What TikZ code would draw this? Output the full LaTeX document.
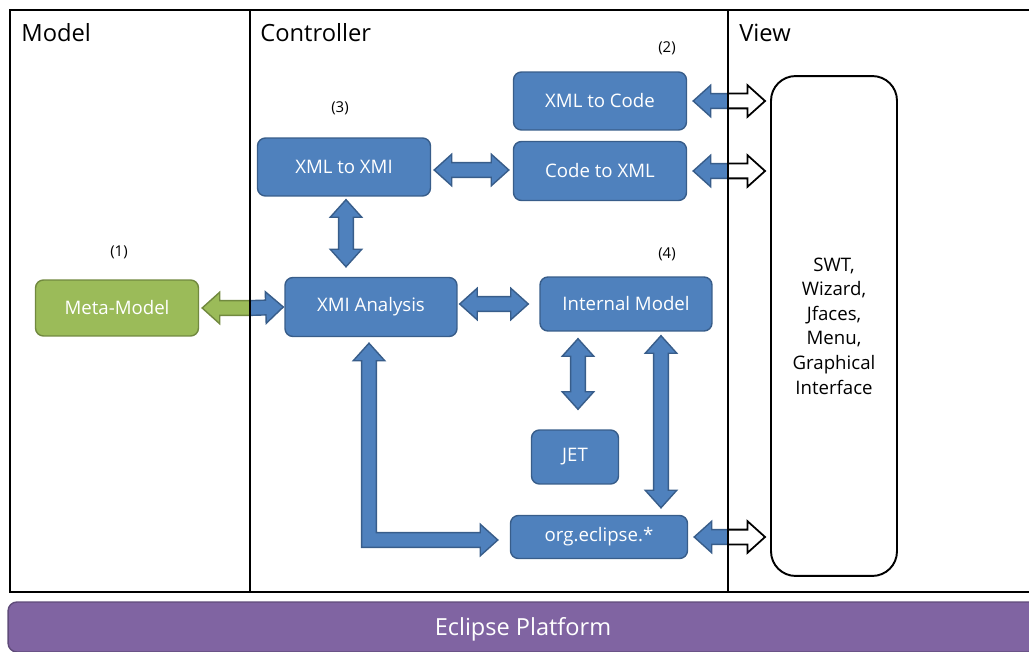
\documentclass[tikz,border=0pt]{standalone}
\usepackage{fontspec}
\setmainfont{Open Sans}
\usepackage{tikz}
\usetikzlibrary{calc}

\definecolor{boxblue}{HTML}{4F81BD}
\definecolor{edgeblue}{HTML}{385D8A}
\definecolor{boxgreen}{HTML}{9BBB59}
\definecolor{edgegreen}{HTML}{71893F}
\definecolor{barpurple}{HTML}{8064A2}
\definecolor{edgepurple}{HTML}{5F4B7A}

% fat arrow sizes: shaft half width, head half width, head length
\def\fsw{4.2pt}
\def\fhw{9pt}
\def\fhl{10pt}

% fat double arrow from tip #1 to tip #2
\newcommand\fatboth[3]{%
  \path[#3] let \p1=#1, \p2=#2,
    \n1={atan2(\y2-\y1,\x2-\x1)}, \n2={veclen(\x2-\x1,\y2-\y1)} in
    [shift={(\p1)}, rotate=\n1]
    (0pt,0pt) -- (\fhl,\fhw) -- (\fhl,\fsw) -- (\n2*1pt-\fhl,\fsw) -- (\n2*1pt-\fhl,\fhw)
    -- (\n2*1pt,0pt) -- (\n2*1pt-\fhl,-\fhw) -- (\n2*1pt-\fhl,-\fsw) -- (\fhl,-\fsw)
    -- (\fhl,-\fhw) -- cycle;}
% fat single arrow, tail #1, tip #2
\newcommand\fatone[3]{%
  \path[#3] let \p1=#1, \p2=#2,
    \n1={atan2(\y2-\y1,\x2-\x1)}, \n2={veclen(\x2-\x1,\y2-\y1)} in
    [shift={(\p1)}, rotate=\n1]
    (0pt,\fsw) -- (\n2*1pt-\fhl,\fsw) -- (\n2*1pt-\fhl,\fhw) -- (\n2*1pt,0pt)
    -- (\n2*1pt-\fhl,-\fhw) -- (\n2*1pt-\fhl,-\fsw) -- (0pt,-\fsw) -- cycle;}
% fat elbow arrow, up tip #1, right tip #2
\newcommand\fatell[3]{%
  \path[#3] let \p1=#1, \p2=#2 in
    (\p1) -- (\x1+\fhw,\y1-\fhl) -- (\x1+\fsw,\y1-\fhl) -- (\x1+\fsw,\y2+\fsw)
    -- (\x2-\fhl,\y2+\fsw) -- (\x2-\fhl,\y2+\fhw) -- (\p2) -- (\x2-\fhl,\y2-\fhw)
    -- (\x2-\fhl,\y2-\fsw) -- (\x1-\fsw,\y2-\fsw) -- (\x1-\fsw,\y1-\fhl)
    -- (\x1-\fhw,\y1-\fhl) -- cycle;}

\tikzset{
  block/.style={shape=rectangle, rounded corners=4.5pt, fill=boxblue, draw=edgeblue,
    line width=0.8pt, text=white, inner sep=0pt, font=\fontsize{10.6}{12}\selectfont},
  greenblock/.style={block, fill=boxgreen, draw=edgegreen},
  viewblock/.style={shape=rectangle, rounded corners=14pt, fill=white, draw=black,
    line width=1.1pt, align=center, font=\fontsize{10.6}{14}\selectfont},
  platform/.style={shape=rectangle, rounded corners=5pt, fill=barpurple, draw=edgepurple,
    line width=0.8pt, text=white, font=\fontsize{13.4}{15}\selectfont},
  layer/.style={anchor=west, inner sep=0pt, font=\fontsize{13.5}{15}\selectfont},
  num/.style={inner sep=0pt, font=\fontsize{8.5}{10}\selectfont},
  fatblue/.style={fill=boxblue, draw=edgeblue, line width=0.8pt},
  fatgreen/.style={fill=boxgreen, draw=edgegreen, line width=0.8pt},
  fatwhite/.style={fill=white, draw=black, line width=1pt},
  frame/.style={draw=black, line width=1.4pt}
}

\begin{document}
\begin{tikzpicture}[x=0.02cm,y=-0.02cm]
  \useasboundingbox (0,0) rectangle (1029,652);
  \clip (0,0) rectangle (1029,652);

  \coordinate (d1) at (250,10);
  \coordinate (d2) at (728,10);

  \node[layer] (tmodel) at (21,33) {Model};
  \node[layer] (tctrl) at (260,33) {Controller};
  \node[layer] (tview) at (739,33) {View};

  \node[greenblock, minimum width=3.26cm, minimum height=1.12cm] (meta) at (117,308) {Meta-Model};
  \node[block, minimum width=3.44cm, minimum height=1.18cm] (xmi) at (371,307) {XMI Analysis};
  \node[block, minimum width=3.46cm, minimum height=1.16cm] (xml2xmi) at (344,167) {XML to XMI};
  \node[block, minimum width=3.46cm, minimum height=1.16cm] (xml2code) at (600,101) {XML to Code};
  \node[block, minimum width=3.46cm, minimum height=1.18cm] (code2xml) at (600,171) {Code to XML};
  \node[block, minimum width=3.44cm, minimum height=1.08cm] (internal) at (626,304) {Internal Model};
  \node[block, minimum width=1.74cm, minimum height=1.08cm] (jet) at (575,457) {JET};
  \node[block, minimum width=3.54cm, minimum height=0.86cm] (orgecl) at (599,537) {org.eclipse.*};
  \node[viewblock, minimum width=2.52cm, minimum height=10cm] (view) at (834,326)
    {SWT,\\Wizard,\\Jfaces,\\Menu,\\Graphical\\Interface};

  \node[num] (n1) at (119,252) {(1)};
  \node[num] (n2) at (667,48) {(2)};
  \node[num] (n3) at (340,108) {(3)};
  \node[num] (n4) at (667,254) {(4)};

  \node[platform, minimum width=20.6cm, minimum height=1cm] (eclipse) at (523,627) {};
  \node[inner sep=0pt, text=white, font=\fontsize{13.4}{15}\selectfont] (eclipsetext) at (523,629) {Eclipse Platform};

  % arrows
  \fatone{(meta.east -| d1)}{($(meta.east)+(3,0)$)}{fatgreen}
  \fatone{(meta.east -| d1)}{($(xmi.west)+(-1,0)$)}{fatblue}
  \fatboth{($(xml2xmi.south)+(2,3)$)}{($(xml2xmi.south |- xmi.north)+(2,-10)$)}{fatblue}
  \fatboth{($(xml2xmi.east)+(3,3)$)}{($(xml2xmi.east -| code2xml.west)+(-4,3)$)}{fatblue}
  \fatboth{($(xmi.east)+(2,-3)$)}{($(xmi.east -| internal.west)+(-11,-3)$)}{fatblue}
  \fatboth{($(jet.north |- internal.south)+(3,7)$)}{($(jet.north)+(3,-20)$)}{fatblue}
  \fatboth{($(internal.south)+(35,4)$)}{($(internal.south |- orgecl.north)+(35,-7)$)}{fatblue}
  \fatell{($(xmi.south)+(-2,6)$)}{($(orgecl.west)+(-12,3)$)}{fatblue}
  \foreach \src in {xml2code,code2xml,orgecl}{
    \fatone{(\src.east -| d2)}{($(\src.east)+(6,0)$)}{fatblue}
    \fatone{(\src.east -| d2)}{($(\src.east -| view.west)+(-5,0)$)}{fatwhite}
  }

  % layers frame
  \draw[frame] (10,10) rectangle (1045,592);
  \draw[frame] (d1) -- ++(0,582);
  \draw[frame] (d2) -- ++(0,582);
\end{tikzpicture}
\end{document}
